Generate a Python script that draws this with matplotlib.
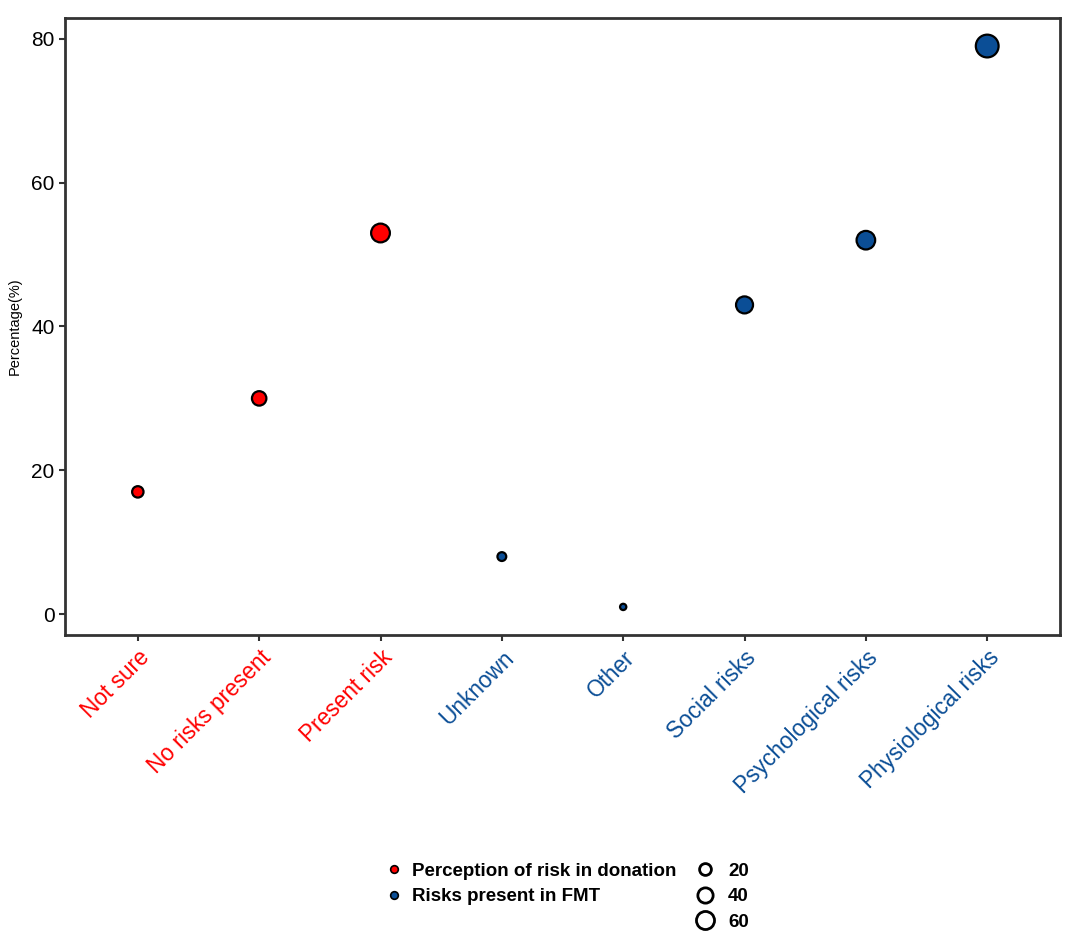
import matplotlib
matplotlib.use('Agg')
import matplotlib.pyplot as plt
from matplotlib.lines import Line2D
import numpy as np

plt.rcParams['font.family'] = ['Liberation Sans', 'DejaVu Sans']

categories = ['Not sure', 'No risks present', 'Present risk', 'Unknown', 'Other',
              'Social risks', 'Psychological risks', 'Physiological risks']
values = [17, 30, 53, 8, 1, 43, 52, 79]
groups = ['Perception of risk in donation'] * 3 + ['Risks present in FMT'] * 5
group_colors = {'Perception of risk in donation': '#FF0000',
                'Risks present in FMT': '#0B4E96'}
size_breaks = [20, 40, 60]

EDGE_LW = 1.6
D_MIN, D_MAX = 8.5, 25.0  # outer diameter in px for min / max value
vmin, vmax = min(values), max(values)


def diameter_px(v):
    # area-linear size scale, like ggplot's scale_size
    a = D_MIN ** 2 + (D_MAX ** 2 - D_MIN ** 2) * (v - vmin) / (vmax - vmin)
    return np.sqrt(a)


def inner_pt(v):
    return max(diameter_px(v) * 0.72 - EDGE_LW, 1.0)


fig = plt.figure(figsize=(10.8, 9.47), dpi=100)
ax = fig.add_axes([0.0602, 0.3295, 0.9213, 0.6515])

x = np.arange(1, len(categories) + 1)
colors = [group_colors[g] for g in groups]
sizes = [inner_pt(v) ** 2 for v in values]
ax.scatter(x, values, s=sizes, c=colors, edgecolors='black', linewidths=EDGE_LW, zorder=3)

ax.set_xlim(0.4, len(categories) + 0.6)
ax.set_ylim(-2.9, 82.9)
ax.set_yticks([0, 20, 40, 60, 80])
ax.set_xticks(x)
ax.tick_params(axis='y', labelsize=15, colors='#333333', labelcolor='black', length=4, width=1.5)
ax.tick_params(axis='x', colors='#333333', length=4, width=1.5, pad=4)
ax.set_xticklabels(categories, rotation=45, ha='right', va='top', rotation_mode='anchor', fontsize=16.3)
for lbl, c in zip(ax.get_xticklabels(), colors):
    lbl.set_color(c)
for sp in ax.spines.values():
    sp.set_color('#333333')
    sp.set_linewidth(2)
ax.set_ylabel('Percentage(%)', fontsize=10.5)
ax.yaxis.set_label_coords(-0.043, 0.5)

# colour legend
col_handles = [Line2D([], [], linestyle='none', marker='o', markersize=5.5,
                      markerfacecolor=group_colors[g], markeredgecolor='black',
                      markeredgewidth=1.2, label=g) for g in group_colors]
leg1 = fig.legend(handles=col_handles, loc='upper left', bbox_to_anchor=(0.349, 0.097),
                  frameon=False, prop={'weight': 'bold', 'size': 13.5},
                  handletextpad=0.45, labelspacing=0.45, handlelength=1.0, borderaxespad=0)

# size legend
size_handles = [Line2D([], [], linestyle='none', marker='o', markersize=s,
                       markerfacecolor='white', markeredgecolor='black',
                       markeredgewidth=2.0, label=str(b))
                for b, s in zip(size_breaks, [8.5, 11.0, 13.0])]
leg2 = fig.legend(handles=size_handles, loc='upper left', bbox_to_anchor=(0.635, 0.097),
                  frameon=False, prop={'weight': 'bold', 'size': 13.5},
                  handletextpad=0.65, labelspacing=0.45, handlelength=1.2, borderaxespad=0)

fig.savefig('out.png', dpi=100, facecolor='white')
